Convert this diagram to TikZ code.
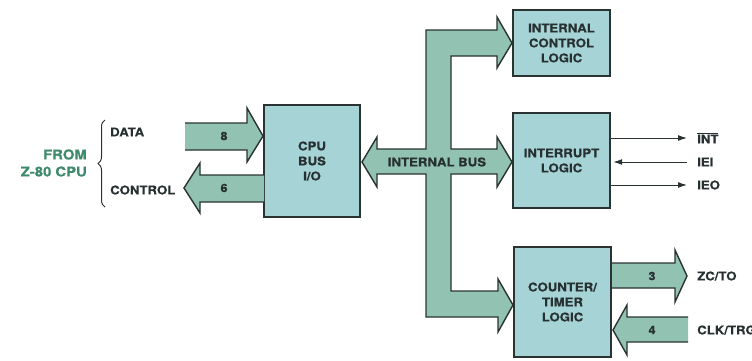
\documentclass[tikz,border=0pt]{standalone}
\usepackage{fontspec}
\setmainfont{TeX Gyre Heros}[FakeStretch=1.1, BoldFeatures={FakeBold=0.5}]
\usetikzlibrary{decorations.pathreplacing,arrows.meta}
\definecolor{boxfill}{HTML}{A6D3D6}
\definecolor{arrfill}{HTML}{92C2B1}
\definecolor{edge}{HTML}{2A3232}
\definecolor{ink}{HTML}{263030}
\definecolor{fromgreen}{HTML}{3F8A6C}
\newcommand\lblfont{\fontsize{12}{15}\selectfont\bfseries}
\newcommand\numfont{\fontsize{11.5}{12}\selectfont\bfseries}
\tikzset{
  blockbox/.style={draw=edge, line width=2.4pt, fill=boxfill, align=center,
    font=\lblfont, text=ink, inner sep=0pt},
  fatfill/.style={fill=arrfill},
  fatedge/.style={draw=edge, line width=1.4pt, line join=miter},
  txt/.style={font=\lblfont, text=ink, inner sep=0pt},
  numtxt/.style={font=\numfont, text=ink, inner sep=0pt},
  sigline/.style={draw=edge, line width=1pt, -{Latex[length=9pt,width=6pt]}},
}
\begin{document}
\begin{tikzpicture}[x=1pt,y=-1pt]
\useasboundingbox (0,0) rectangle (752,360);

% internal bus shape
\filldraw[fatfill,fatedge]
  (362,162) -- (377,137) -- (377,149) -- (426,149) -- (426,30) -- (497,30)
  -- (497,17) -- (512,43) -- (497,68) -- (497,56) -- (451,56) -- (451,149)
  -- (497,149) -- (497,137) -- (512,162) -- (497,187) -- (497,174)
  -- (451,174) -- (451,291) -- (498,291) -- (498,279) -- (513,305)
  -- (498,332) -- (498,317) -- (426,317) -- (426,174) -- (377,174)
  -- (377,187) -- cycle;
\node[txt] (busl) at (437,162) {INTERNAL BUS};

% blocks
\node[blockbox, minimum width=96pt, minimum height=112pt] (cpu) at (312,161)
  {CPU\\BUS\\I/O};
\node[blockbox, minimum width=97pt, minimum height=66pt] (icl) at (561.5,43)
  {INTERNAL\\CONTROL\\LOGIC};
\node[blockbox, minimum width=97pt, minimum height=95pt] (irq) at (561.5,160.5)
  {INTERRUPT\\LOGIC};
\node[blockbox, minimum width=97pt, minimum height=110pt] (ctc) at (562.5,302)
  {COUNTER/\\TIMER\\LOGIC};

% DATA arrow
\fill[fatfill] (185,123) -- (247,123) -- (247,108) -- (263,136) -- (247,162)
  -- (247,150) -- (185,150) -- cycle;
\draw[fatedge] (185,123) -- (247,123) -- (247,108) -- (263,136) -- (247,162)
  -- (247,150) -- (185,150);
\node[numtxt] (n8) at (224,136) {8};

% CONTROL arrow
\fill[fatfill] (264,175) -- (200,175) -- (200,163) -- (184,188) -- (200,213)
  -- (200,202) -- (264,202) -- cycle;
\draw[fatedge] (264,175) -- (200,175) -- (200,163) -- (184,188) -- (200,213)
  -- (200,202) -- (264,202);
\node[numtxt] (n6) at (224,188) {6};

% ZC/TO arrow
\fill[fatfill] (611,263) -- (675,263) -- (675,250) -- (687,276) -- (675,302)
  -- (675,288) -- (611,288) -- cycle;
\draw[fatedge] (611,263) -- (675,263) -- (675,250) -- (687,276) -- (675,302)
  -- (675,288) -- (611,288);
\node[numtxt] (n3) at (652,276) {3};

% CLK/TRG arrow
\fill[fatfill] (688,317) -- (627,317) -- (627,305) -- (613,330) -- (627,355)
  -- (627,342) -- (688,342) -- cycle;
\draw[fatedge] (688,317) -- (627,317) -- (627,305) -- (613,330) -- (627,355)
  -- (627,342) -- (688,342);
\node[numtxt] (n4) at (652,330) {4};

% redraw counter box border on top
\node[blockbox, fill=none, minimum width=97pt, minimum height=110pt] at (562.5,302) {};

% left labels
\node[txt, anchor=west] (data) at (110,132) {DATA};
\node[txt, anchor=west] (ctrl) at (110,190) {CONTROL};
\coordinate (brb) at (105,207);
\coordinate (brt) at (105,120);
\draw[edge, line width=1pt, decorate, decoration={brace, amplitude=7pt}] (brb) -- (brt);
\node[font=\fontsize{13.5}{17}\selectfont\bfseries, text=fromgreen, align=right,
  anchor=east, inner sep=0pt] (from) at (87,163) {FROM\\Z-80 CPU};

% signal labels
\node[txt, anchor=west] (lint) at (697,138) {$\overline{\hbox{INT}}$};
\node[txt, anchor=west] (liei) at (697,162) {IEI};
\node[txt, anchor=west] (lieo) at (697,185) {IEO};
\node[txt, anchor=west] (lzc) at (697,276) {ZC/TO};
\node[txt, anchor=west] (lclk) at (697,330) {CLK/TRG};

% interrupt signal lines
\draw[sigline] (irq.east |- lint.west) -- ([xshift=-10pt]lint.west);
\draw[sigline] ([xshift=-10pt]liei.west) -- ([xshift=2pt]irq.east |- liei.west);
\draw[sigline] (irq.east |- lieo.west) -- ([xshift=-10pt]lieo.west);
\end{tikzpicture}
\end{document}
